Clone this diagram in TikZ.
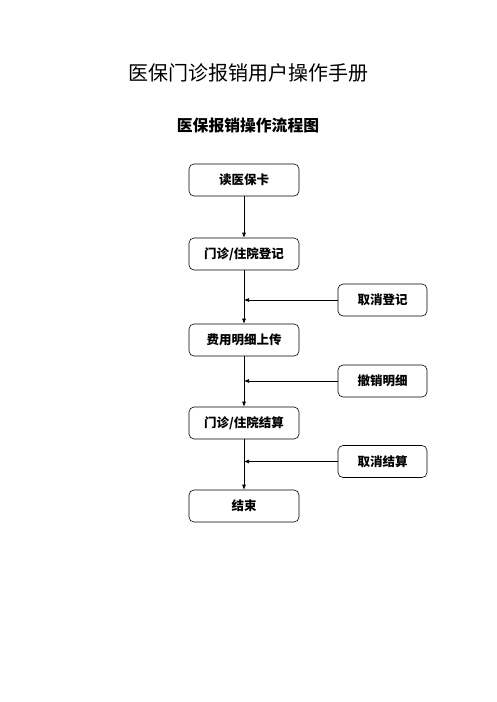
\documentclass[tikz,border=0pt]{standalone}
\usepackage{fontspec}
\newfontfamily\cjk{Noto Sans CJK SC}
\usetikzlibrary{arrows.meta}
\begin{document}
\begin{tikzpicture}[x=1pt,y=-1pt,
  box/.style={draw, rounded corners=5pt, minimum width=110pt, minimum height=32pt, inner sep=0pt, font=\cjk\bfseries\fontsize{12.5}{14}\selectfont, line width=0.6pt},
  sbox/.style={box, minimum width=89pt},
  arr/.style={-{Latex[length=5pt,width=4pt]}, line width=0.6pt}]
\useasboundingbox[fill=white] (0,0) rectangle (496,702);
\node[font=\cjk\fontsize{20}{24}\selectfont] (title) at (248,73) {医保门诊报销用户操作手册};
\node[font=\cjk\bfseries\fontsize{15.8}{18}\selectfont] (sub) at (248,126) {医保报销操作流程图};
\node[box] (a) at (244,180) {读医保卡};
\node[box] (b) at (244,254) {门诊/住院登记};
\node[sbox] (c) at (382.5,300) {取消登记};
\node[box] (d) at (244,340) {费用明细上传};
\node[sbox] (e) at (382.5,381) {撤销明细};
\node[box] (f) at (244,423) {门诊/住院结算};
\node[sbox] (g) at (382.5,461.5) {取消结算};
\node[box] (h) at (244,506) {结束};
\draw[arr] (a) -- (b);
\draw[arr] (b) -- (d);
\draw[arr] (d) -- (f);
\draw[arr] (f) -- (h);
\coordinate (j1) at (b.south |- c.west);
\coordinate (j2) at (d.south |- e.west);
\coordinate (j3) at (f.south |- g.west);
\draw[arr] (c.west) -- (j1);
\draw[arr] (e.west) -- (j2);
\draw[arr] (g.west) -- (j3);
\end{tikzpicture}
\end{document}
